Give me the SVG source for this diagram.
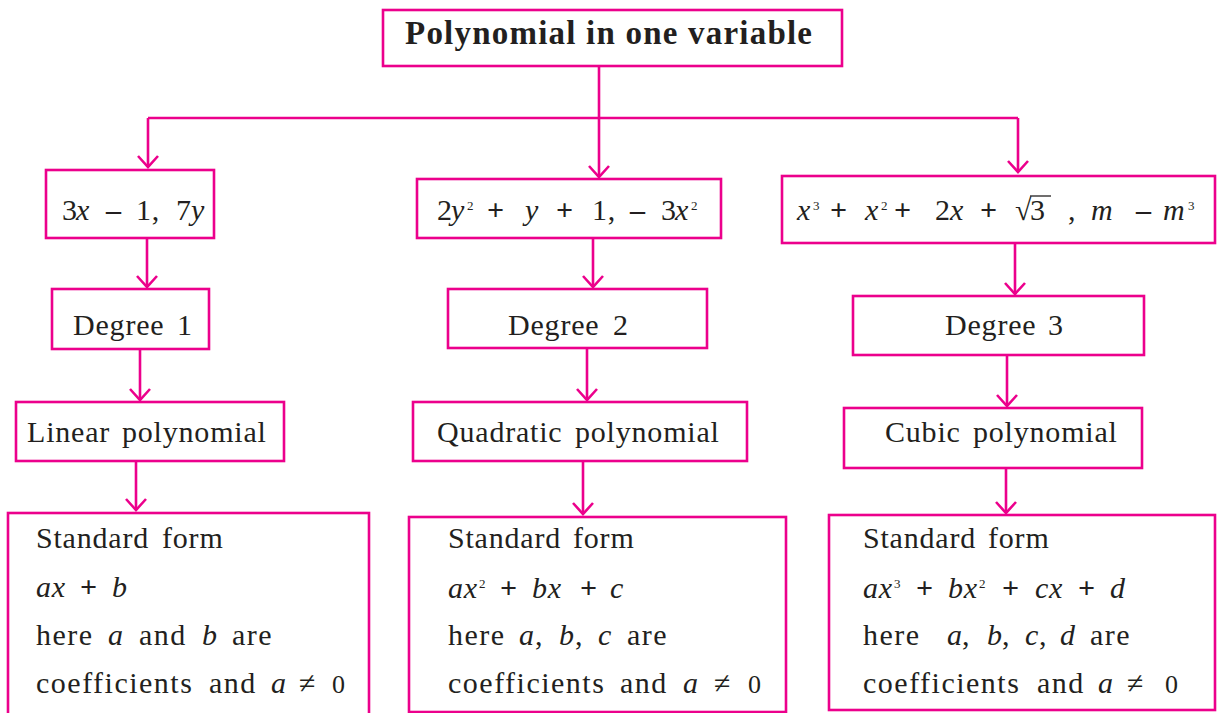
<svg xmlns="http://www.w3.org/2000/svg" width="1218" height="713" viewBox="0 0 1218 713">
<style>
.box{fill:#fff;stroke:#ec008c;stroke-width:2.6}
.ln{fill:none;stroke:#ec008c;stroke-width:2.6}
.arr{fill:none;stroke:#ec008c;stroke-width:2.6;marker-end:url(#chev)}
text{font-family:"Liberation Serif","Times New Roman",serif;font-size:30px;fill:#231f20;letter-spacing:0.8px}
.title{font-weight:bold;font-size:33px;letter-spacing:0}
.i{font-style:italic}
.op{font-weight:bold}
.sup{font-size:13px;letter-spacing:0}
.z{font-size:26px}
.w{letter-spacing:1.5px}
</style>
<defs>
<marker id="chev" markerUnits="userSpaceOnUse" markerWidth="30" markerHeight="30" viewBox="-15 -15 30 30" refX="0" refY="0" orient="auto" overflow="visible">
<path d="M-11,-10 L0,0 L-11,10" fill="none" stroke="#ec008c" stroke-width="2.6"/>
</marker>
</defs>

<g id="connectors">
<line class="arr" x1="599" y1="66" x2="599" y2="177"/>
<polyline class="ln" points="148,118 1018,118"/>
<line class="arr" x1="148" y1="118" x2="148" y2="167"/>
<line class="arr" x1="1018" y1="118" x2="1018" y2="172"/>
<line class="arr" x1="147" y1="238" x2="147" y2="287"/>
<line class="arr" x1="140" y1="349" x2="140" y2="400"/>
<line class="arr" x1="136" y1="461" x2="136" y2="510"/>
<line class="arr" x1="593" y1="238" x2="593" y2="287"/>
<line class="arr" x1="587" y1="348" x2="587" y2="400"/>
<line class="arr" x1="583" y1="461" x2="583" y2="514"/>
<line class="arr" x1="1015" y1="243" x2="1015" y2="294"/>
<line class="arr" x1="1007" y1="355" x2="1007" y2="406"/>
<line class="arr" x1="1006" y1="468" x2="1006" y2="513"/>
</g>

<g id="title">
<rect class="box" x="383" y="10" width="459" height="56"/>
<text class="title" x="405" y="44" textLength="407" lengthAdjust="spacing">Polynomial in one variable</text>
</g>

<g id="ex1">
<rect class="box" x="46" y="170" width="168" height="68"/>
<text y="220"><tspan x="62">3</tspan><tspan x="76" class="i">x</tspan><tspan x="106" class="op">–</tspan><tspan x="136">1,</tspan><tspan x="176">7</tspan><tspan x="191" class="i">y</tspan></text>
</g>

<g id="ex2">
<rect class="box" x="417" y="179" width="304" height="59"/>
<text y="220"><tspan x="437">2</tspan><tspan x="451" class="i">y</tspan><tspan x="467" dy="-10" class="sup">2</tspan><tspan x="487" dy="10" class="op">+</tspan><tspan x="525" class="i">y</tspan><tspan x="556" class="op">+</tspan><tspan x="592">1,</tspan><tspan x="630" class="op">–</tspan><tspan x="661">3</tspan><tspan x="675" class="i">x</tspan><tspan x="691" dy="-10" class="sup">2</tspan></text>
</g>

<g id="ex3">
<rect class="box" x="782" y="176" width="433" height="67"/>
<text y="220"><tspan x="797" class="i">x</tspan><tspan x="813" dy="-10" class="sup">3</tspan><tspan x="830" dy="10" class="op">+</tspan><tspan x="865" class="i">x</tspan><tspan x="881" dy="-10" class="sup">2</tspan><tspan x="894" dy="10" class="op">+</tspan><tspan x="935">2</tspan><tspan x="950" class="i">x</tspan><tspan x="980" class="op">+</tspan><tspan x="1015">√</tspan><tspan x="1030">3</tspan><tspan x="1068">,</tspan><tspan x="1091" class="i">m</tspan><tspan x="1136" class="op">–</tspan><tspan x="1163" class="i">m</tspan><tspan x="1188" dy="-10" class="sup">3</tspan></text>
<line x1="1030" y1="196" x2="1051" y2="196" stroke="#231f20" stroke-width="1.3"/>
</g>

<g id="deg1">
<rect class="box" x="52" y="289" width="157" height="60"/>
<text y="335"><tspan x="73">Degree</tspan><tspan x="177">1</tspan></text>
</g>
<g id="deg2">
<rect class="box" x="448" y="289" width="259" height="59"/>
<text y="335"><tspan x="508">Degree</tspan><tspan x="613">2</tspan></text>
</g>
<g id="deg3">
<rect class="box" x="853" y="296" width="291" height="59"/>
<text y="335"><tspan x="945">Degree</tspan><tspan x="1048">3</tspan></text>
</g>

<g id="linear">
<rect class="box" x="16" y="402" width="268" height="59"/>
<text y="442"><tspan x="27">Linear</tspan><tspan x="122">polynomial</tspan></text>
</g>
<g id="quadratic">
<rect class="box" x="413" y="402" width="334" height="59"/>
<text y="442"><tspan x="437">Quadratic</tspan><tspan x="575">polynomial</tspan></text>
</g>
<g id="cubic">
<rect class="box" x="844" y="408" width="298" height="60"/>
<text y="442"><tspan x="885">Cubic</tspan><tspan x="973">polynomial</tspan></text>
</g>

<g id="std1">
<rect class="box" x="8" y="513" width="361" height="210"/>
<text y="548"><tspan x="36">Standard</tspan><tspan x="162">form</tspan></text>
<text y="597"><tspan x="36" class="i">ax</tspan><tspan x="80" class="op">+</tspan><tspan x="112" class="i">b</tspan></text>
<text y="645"><tspan x="36" class="w">here</tspan><tspan x="108" class="i">a</tspan><tspan x="139" class="w">and</tspan><tspan x="202" class="i">b</tspan><tspan x="232" class="w">are</tspan></text>
<text y="693"><tspan x="36" class="w">coefficients</tspan><tspan x="209" class="w">and</tspan><tspan x="271" class="i">a</tspan><tspan x="299">≠</tspan><tspan x="332" class="z">0</tspan></text>
</g>

<g id="std2">
<rect class="box" x="409" y="517" width="377" height="195"/>
<text y="548"><tspan x="448">Standard</tspan><tspan x="573">form</tspan></text>
<text y="598"><tspan x="448" class="i">ax</tspan><tspan x="479" dy="-10" class="sup">2</tspan><tspan x="500" dy="10" class="op">+</tspan><tspan x="532" class="i">bx</tspan><tspan x="580" class="op">+</tspan><tspan x="610" class="i">c</tspan></text>
<text y="645"><tspan x="448" class="w">here</tspan><tspan x="519" class="i">a</tspan><tspan x="535">,</tspan><tspan x="559" class="i">b</tspan><tspan x="575">,</tspan><tspan x="598" class="i">c</tspan><tspan x="627" class="w">are</tspan></text>
<text y="693"><tspan x="448" class="w">coefficients</tspan><tspan x="620" class="w">and</tspan><tspan x="683" class="i">a</tspan><tspan x="714">≠</tspan><tspan x="748" class="z">0</tspan></text>
</g>

<g id="std3">
<rect class="box" x="829" y="515" width="386" height="195"/>
<text y="548"><tspan x="863">Standard</tspan><tspan x="988">form</tspan></text>
<text y="598"><tspan x="863" class="i">ax</tspan><tspan x="894" dy="-10" class="sup">3</tspan><tspan x="916" dy="10" class="op">+</tspan><tspan x="948" class="i">bx</tspan><tspan x="979" dy="-10" class="sup">2</tspan><tspan x="1002" dy="10" class="op">+</tspan><tspan x="1035" class="i">cx</tspan><tspan x="1078" class="op">+</tspan><tspan x="1110" class="i">d</tspan></text>
<text y="645"><tspan x="863" class="w">here</tspan><tspan x="947" class="i">a</tspan><tspan x="962">,</tspan><tspan x="987" class="i">b</tspan><tspan x="1002">,</tspan><tspan x="1025" class="i">c</tspan><tspan x="1039">,</tspan><tspan x="1060" class="i">d</tspan><tspan x="1090" class="w">are</tspan></text>
<text y="693"><tspan x="863" class="w">coefficients</tspan><tspan x="1037" class="w">and</tspan><tspan x="1098" class="i">a</tspan><tspan x="1127">≠</tspan><tspan x="1165" class="z">0</tspan></text>
</g>
</svg>
